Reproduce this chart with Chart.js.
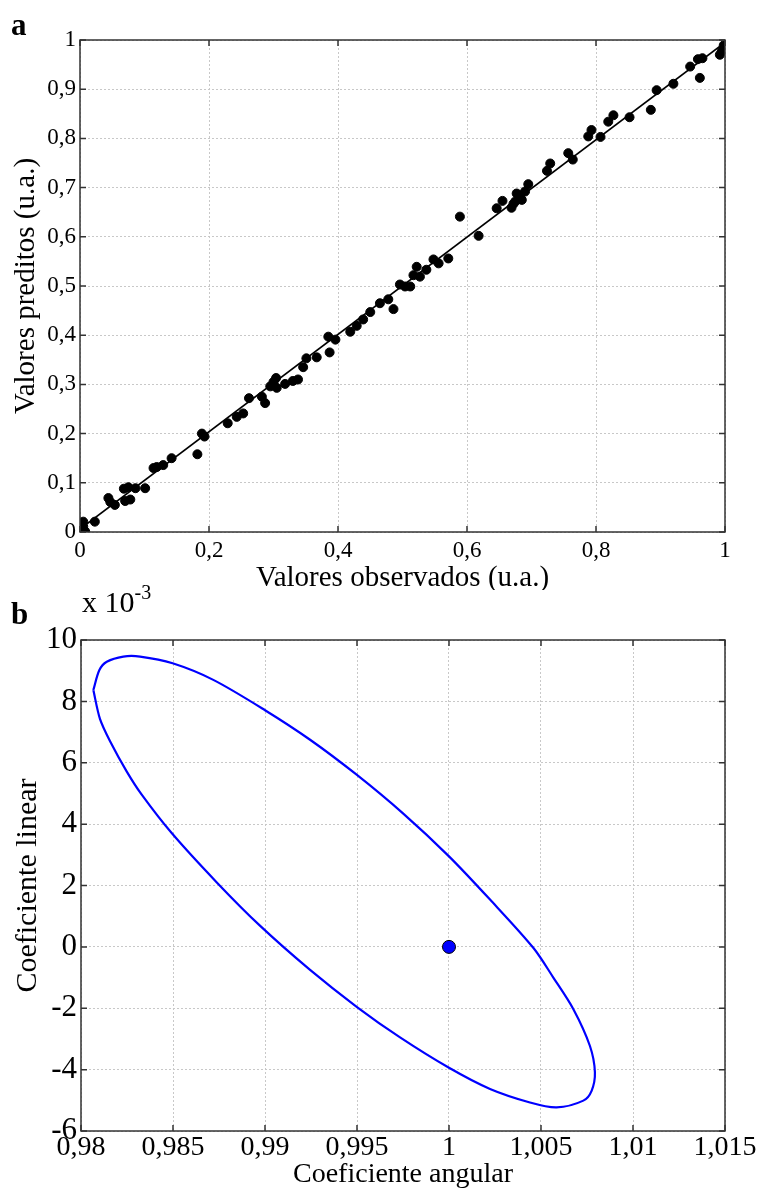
<!DOCTYPE html>
<html>
<head>
<meta charset="utf-8">
<script src="https://cdn.jsdelivr.net/npm/chart.js@4.4.0/dist/chart.umd.min.js"></script>
<style>
    body { margin: 0; background: #fff; width: 761px; height: 1196px; position: relative; overflow: hidden; font-family: "Liberation Serif", serif; color: #000; }
    canvas { position: absolute; left: 0; }
    #chartA { top: 0; }
    #chartB { top: 590px; }
    .panel { position: absolute; font-weight: bold; font-size: 31px; line-height: 1; }
    .exp { position: absolute; left: 82px; top: 587px; font-size: 30px; line-height: 1; }
    .exp sup { font-size: 20px; position: relative; top: -5px; vertical-align: top; }
</style>
</head>
<body>
<canvas id="chartA" width="761" height="590"></canvas>
<canvas id="chartB" width="761" height="606"></canvas>
<div class="panel" style="left:11px; top:9px;">a</div>
<div class="panel" style="left:11px; top:598px;">b</div>
<div class="exp">x 10<sup>-3</sup></div>
<script>
// Panel a: observed vs predicted values
const observed = [0.005, 0.008, 0.005, 0.023, 0.044, 0.047, 0.054, 0.070, 0.078, 0.068,
    0.075, 0.086, 0.101, 0.114, 0.119, 0.129, 0.142, 0.182, 0.189, 0.193,
    0.229, 0.243, 0.253, 0.262, 0.282, 0.287, 0.295, 0.300, 0.304, 0.305,
    0.318, 0.330, 0.338, 0.346, 0.351, 0.367, 0.387, 0.385, 0.396, 0.419,
    0.429, 0.439, 0.450, 0.465, 0.478, 0.486, 0.496, 0.504, 0.512, 0.517,
    0.522, 0.527, 0.537, 0.548, 0.556, 0.571, 0.589, 0.618, 0.646, 0.655,
    0.669, 0.672, 0.677, 0.685, 0.690, 0.695, 0.675, 0.682, 0.724, 0.729,
    0.757, 0.764, 0.788, 0.793, 0.807, 0.819, 0.827, 0.852, 0.885, 0.894,
    0.920, 0.946, 0.958, 0.965, 0.961, 0.992, 0.995, 0.998];
const predicted = [0.021, 0.001, 0.011, 0.021, 0.069, 0.061, 0.055, 0.063, 0.066, 0.088,
    0.091, 0.089, 0.089, 0.130, 0.132, 0.136, 0.150, 0.158, 0.200, 0.194,
    0.221, 0.234, 0.241, 0.272, 0.275, 0.262, 0.296, 0.305, 0.313, 0.293,
    0.301, 0.307, 0.310, 0.335, 0.353, 0.355, 0.365, 0.397, 0.391, 0.407,
    0.419, 0.432, 0.447, 0.465, 0.473, 0.453, 0.503, 0.499, 0.499, 0.522,
    0.539, 0.519, 0.533, 0.554, 0.546, 0.556, 0.641, 0.602, 0.658, 0.673,
    0.659, 0.667, 0.688, 0.675, 0.692, 0.707, 0.672, 0.684, 0.734, 0.749,
    0.770, 0.757, 0.804, 0.817, 0.803, 0.834, 0.847, 0.843, 0.858, 0.898,
    0.911, 0.946, 0.961, 0.963, 0.923, 0.970, 0.977, 0.989];
const fitX = [0, 1];
const fitY = [0.006, 0.995];

// Panel b: joint confidence region (intercept in units of 10^-3)
const ellipseSlope = [0.98067, 0.98100, 0.98140, 0.98230, 0.98321, 0.98498, 0.98719, 0.98998, 0.99245, 0.99498,
    0.99750, 1.00000, 1.00223, 1.00458, 1.00567, 1.00676, 1.00766, 1.00793, 1.00775, 1.00730,
    1.00585, 1.00440, 1.00223, 1.00000, 0.99734, 0.99500, 0.99245, 0.98971, 0.98738, 0.98494,
    0.98330, 0.98248, 0.98158, 0.98103, 0.98067];
const ellipseIntercept = [8.37, 9.02, 9.29, 9.46, 9.46, 9.24, 8.70, 7.72, 6.75, 5.61,
    4.35, 2.95, 1.54, -0.03, -1.00, -2.03, -3.23, -4.09, -4.69, -5.01,
    -5.23, -5.07, -4.63, -3.94, -2.95, -1.96, -0.75, 0.70, 2.10, 3.70,
    4.96, 5.72, 6.70, 7.43, 8.37];
const idealSlope = [1];
const idealIntercept = [0];

const serif = "'Liberation Serif', 'Times New Roman', serif";

function toPoints(xs, ys) {
    return xs.map((x, i) => ({ x: x, y: ys[i] }));
}

function commaLabel(digits) {
    return function (value) {
        return String(parseFloat(Number(value).toFixed(digits))).replace('.', ',');
    };
}

// Frame and inward tick marks, MATLAB style
const frameTicks = {
    id: 'frameTicks',
    afterDatasetsDraw(chart) {
        const { ctx, chartArea: a, scales } = chart;
        ctx.save();
        ctx.strokeStyle = '#333';
        ctx.lineWidth = 1.5;
        ctx.beginPath();
        scales.x.ticks.forEach(t => {
            const px = scales.x.getPixelForValue(t.value);
            ctx.moveTo(px, a.bottom); ctx.lineTo(px, a.bottom - 6);
            ctx.moveTo(px, a.top); ctx.lineTo(px, a.top + 6);
        });
        scales.y.ticks.forEach(t => {
            const py = scales.y.getPixelForValue(t.value);
            ctx.moveTo(a.left, py); ctx.lineTo(a.left + 6, py);
            ctx.moveTo(a.right, py); ctx.lineTo(a.right - 6, py);
        });
        ctx.stroke();
        ctx.strokeRect(a.left, a.top, a.right - a.left, a.bottom - a.top);
        ctx.restore();
    }
};

function gridOpts() {
    return { color: '#c8c8c8', lineWidth: 1, drawTicks: false };
}
function borderOpts() {
    return { display: false, dash: [2, 2] };
}

new Chart(document.getElementById('chartA'), {
    type: 'scatter',
    data: {
        datasets: [
            {
                data: toPoints(observed, predicted),
                backgroundColor: '#000',
                borderColor: '#000',
                pointRadius: 4.5,
                pointHoverRadius: 4.5
            },
            {
                type: 'line',
                data: toPoints(fitX, fitY),
                borderColor: '#000',
                borderWidth: 1.6,
                pointRadius: 0,
                fill: false
            }
        ]
    },
    options: {
        responsive: false,
        animation: false,
        events: [],
        layout: { padding: { left: 0, top: 40, right: 36, bottom: 0 } },
        plugins: { legend: { display: false }, tooltip: { enabled: false } },
        scales: {
            x: {
                type: 'linear', min: 0, max: 1,
                grid: gridOpts(), border: borderOpts(),
                ticks: { stepSize: 0.2, padding: 7, color: '#000', font: { family: serif, size: 23, lineHeight: 1 }, callback: commaLabel(1), maxRotation: 0 },
                title: { display: true, text: 'Valores observados (u.a.)', color: '#000', font: { family: serif, size: 29, lineHeight: 0.8 }, padding: 0 },
                afterFit(scale) { scale.height = 58; }
            },
            y: {
                type: 'linear', min: 0, max: 1,
                grid: gridOpts(), border: borderOpts(),
                ticks: { stepSize: 0.1, padding: 4, color: '#000', font: { family: serif, size: 23, lineHeight: 1 }, callback: commaLabel(1) },
                title: { display: true, text: 'Valores preditos (u.a.)', color: '#000', font: { family: serif, size: 29, lineHeight: 1 }, padding: { top: 12, bottom: 0 } },
                afterFit(scale) { scale.width = 80; }
            }
        }
    },
    plugins: [frameTicks]
});

new Chart(document.getElementById('chartB'), {
    type: 'scatter',
    data: {
        datasets: [
            {
                type: 'line',
                data: toPoints(ellipseSlope, ellipseIntercept),
                borderColor: '#0000ff',
                borderWidth: 2.2,
                pointRadius: 0,
                tension: 0.3,
                fill: false
            },
            {
                data: toPoints(idealSlope, idealIntercept),
                backgroundColor: '#0000ff',
                borderColor: '#000',
                borderWidth: 1,
                pointRadius: 6.5,
                pointHoverRadius: 6.5
            }
        ]
    },
    options: {
        responsive: false,
        animation: false,
        events: [],
        layout: { padding: { left: 0, top: 50, right: 36, bottom: 0 } },
        plugins: { legend: { display: false }, tooltip: { enabled: false } },
        scales: {
            x: {
                type: 'linear', min: 0.98, max: 1.015,
                grid: gridOpts(), border: borderOpts(),
                ticks: { stepSize: 0.005, padding: 3, color: '#000', font: { family: serif, size: 28, lineHeight: 1 }, callback: commaLabel(3), maxRotation: 0, autoSkip: false },
                title: { display: true, text: 'Coeficiente angular', color: '#000', font: { family: serif, size: 28, lineHeight: 1 }, padding: { top: 0, bottom: 7 } },
                afterFit(scale) { scale.height = 65; }
            },
            y: {
                type: 'linear', min: -6, max: 10,
                grid: gridOpts(), border: borderOpts(),
                ticks: { stepSize: 2, padding: 4, color: '#000', font: { family: serif, size: 31, lineHeight: 1 } },
                title: { display: true, text: 'Coeficiente linear', color: '#000', font: { family: serif, size: 30, lineHeight: 1 }, padding: { top: 13, bottom: 0 } },
                afterFit(scale) { scale.width = 81; }
            }
        }
    },
    plugins: [frameTicks]
});
</script>
</body>
</html>
